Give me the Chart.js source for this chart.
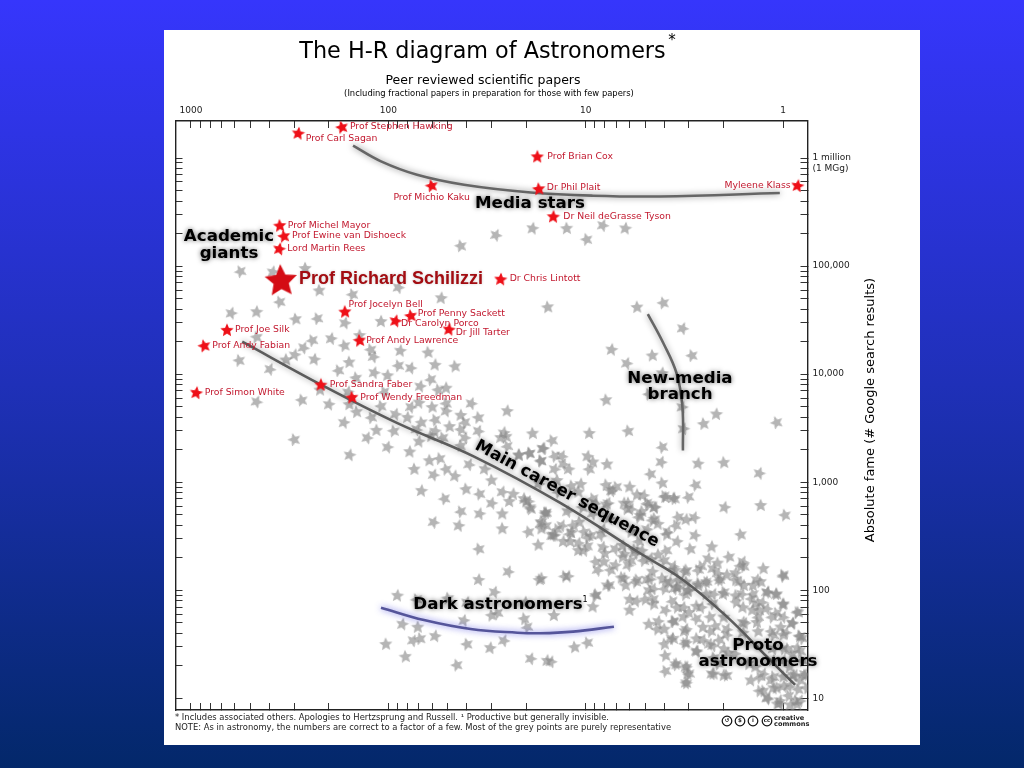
<!DOCTYPE html>
<html>
<head>
<meta charset="utf-8">
<title>The H-R diagram of Astronomers</title>
<script src="https://cdn.jsdelivr.net/npm/chart.js@4"></script>
<style>
  html, body { margin: 0; height: 100%; overflow: hidden; }
  body { width: 1024px; height: 768px; background: linear-gradient(#3636fc 0%, #1f30b8 50%, #03286a 100%); }
  #panel { position: absolute; left: 164px; top: 30px; width: 756px; height: 715px; background: #fff; }
  canvas { display: block; }
</style>
</head>
<body>
<div id="panel"><canvas id="chart" width="756" height="715"></canvas></div>
<script>
const papersTicks = [1000, 900, 800, 700, 600, 500, 400, 300, 200, 100, 90, 80, 70, 60, 50, 40, 30, 20, 10, 9, 8, 7, 6, 5, 4, 3, 2, 1];
const fameTicks = [1000000, 900000, 800000, 700000, 600000, 500000, 400000, 300000, 200000,
  100000, 90000, 80000, 70000, 60000, 50000, 40000, 30000, 20000,
  10000, 9000, 8000, 7000, 6000, 5000, 4000, 3000, 2000,
  1000, 900, 800, 700, 600, 500, 400, 300, 200,
  100, 90, 80, 70, 60, 50, 40, 30, 20, 10];
const papersLabels = { 1000: '1000', 100: '100', 10: '10', 1: '1' };
const fameLabels = { 1000000: ['', '1 million', '(1 MGg)'], 100000: '100,000', 10000: '10,000', 1000: '1,000', 100: '100', 10: '10' };

const redNames = ['Prof Stephen Hawking', 'Prof Carl Sagan', 'Prof Brian Cox', 'Dr Phil Plait', 'Prof Michio Kaku', 'Myleene Klass',
  'Dr Neil deGrasse Tyson', 'Prof Michel Mayor', 'Prof Ewine van Dishoeck', 'Lord Martin Rees', 'Dr Chris Lintott', 'Prof Jocelyn Bell',
  'Prof Penny Sackett', 'Dr Carolyn Porco', 'Dr Jill Tarter', 'Prof Joe Silk', 'Prof Andy Lawrence', 'Prof Andy Fabian',
  'Prof Simon White', 'Prof Sandra Faber', 'Prof Wendy Freedman'];
const redPapers = [172, 286, 17.6, 17.3, 60.4, 0.845, 14.6, 355, 338, 357, 27, 166, 77, 92, 49.3, 657, 140, 857, 940, 220, 153];
const redFame = [1940000, 1700000, 1035000, 520000, 557000, 557000, 288000, 238000, 190000, 145000, 75900, 38000, 34900, 31300, 26100, 25700, 20600, 18400, 6760, 8010, 6120];

const heroName = 'Prof Richard Schilizzi';
const heroPapers = [350];
const heroFame = [74600];

const mediaPapers = [151, 109, 71.6, 41.4, 19, 9.2, 4.2, 1.04];
const mediaFame = [1300000, 931000, 700000, 566000, 480000, 448000, 441000, 474000];
const mainPapers = [550, 220, 90, 36.8, 13.4, 5.31, 3.2, 1.93, 1.21, 0.87];
const mainFame = [20000, 8010, 3520, 1726, 640, 220, 124, 57, 24.3, 13.3];
const newMediaPapers = [4.85, 4.05, 3.47, 3.24, 3.22];
const newMediaFame = [36000, 19400, 10200, 5010, 1963];
const darkPapers = [109, 66, 38.3, 22.2, 17, 11.6, 7.2];
const darkFame = [69, 53, 43.8, 40.5, 40, 41.4, 46];

// [papers, fame]
const greyStars = [
  [562, 90000], [385, 89000], [264, 96000], [43, 155000], [28.5, 195000], [18.6, 225000], [12.5, 225000], [9.9, 178000], [8.2, 240000], [6.3, 225000],
  [224, 60000], [152, 55000], [89, 64000], [54, 51000], [15.6, 42000], [355, 47000], [625, 37000], [465, 38000], [295, 32500], [229, 33000],
  [166, 30000], [109, 31000], [465, 22200], [243, 20700], [195, 21500], [140, 23000], [167, 18500], [269, 17700], [298, 15200], [330, 13700],
  [570, 13500], [398, 11200], [237, 13800], [158, 13000], [123, 17000], [119, 14600], [87, 16600], [63, 16000], [89, 12100], [77, 11500],
  [58, 12300], [46, 11900], [179, 10900], [118, 10400], [101, 9800], [146, 9300], [61, 9000], [69, 7800], [51, 7500], [56, 7200],
  [105, 6900], [160, 6900], [222, 7200], [275, 5800], [465, 5600], [200, 5300], [158, 5300], [109, 5100], [77, 5000], [70, 5500],
  [60, 5000], [51, 5400], [38, 5400], [25, 4600], [145, 4500], [122, 4000], [92, 4300], [80, 4000], [68, 3600], [58, 3800],
  [51, 4600], [43, 4200], [35, 4000], [41, 3600], [168, 3600], [115, 3050], [94, 3000], [72, 3100], [58, 3000], [49, 3300],
  [43, 3100], [35, 3000], [26, 2900], [18.6, 2850], [300, 2500], [128, 2600], [70, 2400], [61, 2700], [53, 2600], [41, 2600],
  [27, 2600], [25.3, 2650], [14.8, 2450], [101, 2130], [78, 1930], [43, 2200], [25, 2170], [16.6, 2070], [21.8, 1800], [19.3, 1870],
  [14.4, 1760], [157, 1800], [62, 1600], [55, 1670], [39, 1470], [32.5, 1330], [74, 1330], [51, 1330], [59, 1180], [46, 1150],
  [30, 1050], [16.9, 1580], [14.4, 1330], [68, 840], [40.5, 870], [34.5, 785], [26.5, 820], [23.3, 785], [20.2, 670], [52, 710],
  [30, 645], [24.4, 670], [19, 570], [43, 540], [34.5, 515], [26.5, 515], [16, 525],
  [59, 430], [44, 400], [26.5, 375], [19.5, 350], [16.9, 415], [14.4, 325], [17.4, 265], [34.8, 243], [24.7, 150], [34.9, 126],
  [17.2, 126], [12.8, 136], [29, 97], [90, 90], [50, 85], [72, 83], [40, 78], [20.2, 78], [30, 59], [28, 62],
  [41.5, 53], [14.5, 59], [20.5, 55], [19.8, 46], [85, 49], [71, 46], [69, 36], [75, 34.5], [58, 38], [103, 32],
  [40, 32], [26, 34.5], [30.5, 29.5], [82, 24.5], [45, 20.5], [19, 23.5], [15.7, 22.5],
  [11.4, 30], [9.8, 33], [15, 22], [9.2, 71], [8.9, 92], [7.6, 112], [12.3, 136], [16.8, 130],
  [1.64, 330], [1, 136],
  [14.9, 325], [12, 285], [9.8, 260], [8.4, 325], [10.2, 235], [8.1, 185], [7.5, 155], [7.1, 243], [6.4, 220], [5.7, 240],
  [5.1, 190], [6.1, 172], [4.6, 150], [4.1, 130], [5.6, 120], [4.9, 126], [6.4, 130], [3.9, 330], [3.5, 400], [2.8, 325],
  [2.3, 255], [2.95, 243], [3.9, 235], [4.7, 198], [3.55, 155], [3.15, 150], [2.7, 155], [2.4, 198], [2.15, 180], [1.88, 205],
  [1.6, 185], [1.75, 145], [1.26, 160], [1.58, 168], [2.15, 145], [2.45, 120], [3.1, 120], [3.9, 120], [3.4, 107], [3.05, 100],
  [2.7, 117], [2.1, 126], [1.66, 120], [1.42, 112], [1.3, 120], [4.55, 83], [5.55, 80], [6.0, 66], [4.55, 75], [3.65, 80],
  [4.3, 52], [4.8, 49], [3.6, 52], [3.95, 66], [3.2, 70], [2.75, 72], [3.15, 92], [2.25, 93], [2.0, 93], [1.74, 90],
  [1.42, 93], [1.21, 97], [1.09, 93], [1, 75], [0.85, 63], [1.37, 75], [1.6, 70], [1.32, 66], [1.14, 57], [0.9, 50],
  [1.03, 46], [0.83, 38], [1.34, 57], [1.56, 50], [2, 57], [2.34, 57], [2.75, 55], [3.2, 57], [4.0, 44], [4.35, 44],
  [3.7, 36], [3.15, 42], [2.75, 36], [2.33, 42], [1.93, 39], [1.6, 41], [1.34, 42], [1.12, 39], [0.97, 41], [0.85, 29.5],
  [4.0, 32], [3.15, 32.5], [2.36, 32], [2.75, 27.5], [3.95, 25], [3.5, 20.7], [3.1, 19.7], [3.05, 17], [3.1, 14], [3.95, 18],
  [2.3, 17], [2, 16.5], [1.26, 11.8], [1.2, 10], [1.04, 9], [0.87, 9.6], [0.84, 12.2], [0.78, 16.8], [1.12, 12.5], [1, 16],
  [1.12, 16], [1.26, 17], [1.46, 14.8], [0.93, 19.7], [0.8, 22.5], [1, 22.5], [1.12, 22.5], [0.9, 26], [1, 29], [1.12, 29],
  [1.38, 19.7], [1.5, 21], [0.8, 36], [1.76, 26], [1.9, 26.5], [2.25, 24], [2.15, 21], [1.04, 9.6], [0.85, 8.9], [0.82, 14.8],
  [0.93, 13], [0.89, 16.5],
  [5.5, 42000], [4.05, 46000], [3.23, 26700], [7.4, 17000], [4.6, 15000], [2.9, 15000], [6.2, 12700], [4.1, 10300], [7.9, 5800], [4.8, 6600],
  [3.25, 5000], [2.18, 4300], [2.53, 3500], [1.08, 3600], [3.2, 3150], [9.6, 2860], [6.1, 3000],
  [4.1, 2130], [16.4, 2070], [21.9, 1800], [19.3, 1870], [13.2, 1760], [9.8, 1750], [9.2, 1550], [16.9, 1600], [13, 1480],
  [12.2, 1330], [7.8, 1480], [9.6, 1330], [4.15, 1550], [2.7, 1500], [2.0, 1530], [4.7, 1200], [1.32, 1220],
  [10.6, 970], [7.9, 950], [7, 910], [7.4, 840], [6, 910], [4.1, 990], [2.78, 950], [5.1, 760], [3.95, 730], [3.55, 710],
  [3.02, 735], [1.98, 590], [1.3, 615], [0.98, 500], [9, 645], [7.9, 625], [6.1, 645], [4.8, 625], [5.9, 570], [4.5, 590],
  [5.2, 540], [3.4, 480], [2.82, 475], [3.1, 455], [4.5, 465], [5.4, 480], [19.5, 670], [20.6, 710], [19.2, 590], [15.9, 525],
  [17.3, 970], [14, 1050], [11.8, 930], [13.8, 820], [12.4, 540], [10.9, 820], [10.4, 590], [9.2, 515], [7.6, 465],
  [16.8, 375], [15.9, 400], [13.2, 400], [11.8, 350], [10.8, 430], [9.4, 325], [8.2, 370], [6.5, 260], [5.9, 350], [5.4, 285],
  [4.9, 370], [4.3, 415],
  [3.1, 155], [2.6, 168], [2.27, 160], [1.93, 140], [1.65, 168], [1, 140], [1.36, 126], [1.58, 112], [1.75, 126], [2.45, 120],
  [2.1, 126], [2.7, 112], [3.4, 126], [3.55, 104], [3, 100], [2.45, 93], [2, 97], [1.62, 93], [1.2, 97], [1.08, 93],
  [1.45, 84], [1.28, 78], [1, 75], [0.84, 63], [1.08, 62], [1.21, 68], [1.43, 66], [1.73, 78], [2.27, 76], [2.6, 70],
  [3, 63], [3.45, 70], [3.6, 52], [3.1, 44], [2.55, 46], [2.2, 47], [1.93, 44], [1.6, 51], [1.36, 51], [1.15, 42],
  [1, 57], [0.9, 50], [1, 39], [0.82, 38], [2.55, 35], [3.1, 33], [3.6, 36], [2.1, 35], [2.27, 31], [2, 29],
  [0.95, 29], [0.82, 27.5], [2.75, 27.5], [3.5, 21], [3.1, 19.7], [3, 17], [3.1, 14], [2.25, 17], [1.93, 16.5], [1.32, 15.8],
  [1.15, 14.8], [1.08, 12.6], [1.32, 11.8], [1.2, 10.2], [1, 13], [1.07, 9], [0.94, 10.7], [0.82, 9.6], [0.92, 8.7], [0.78, 16.5],
  [0.76, 12.6], [0.87, 16.5],
  [16, 525], [16.8, 440], [14, 370], [14.6, 325], [13, 285], [11.6, 400], [12.1, 335], [10.9, 275], [10.9, 235], [10.2, 350],
  [9.8, 312], [8.2, 253], [8, 222], [8.9, 185], [8.7, 155], [7.1, 172], [6.5, 205], [5.9, 190], [5.6, 222], [5.2, 235],
  [6.6, 132], [5.5, 126], [4.7, 128], [7.8, 112], [6.3, 112], [8.9, 90], [4.8, 100], [6, 83], [5, 83],
  [9.2, 710], [7.7, 645], [6.4, 645], [6.2, 570], [4.9, 645], [4.45, 590], [5.5, 770], [7.5, 850], [4, 750], [3.6, 720],
  [5.3, 500], [4.6, 445], [3.85, 350], [3.45, 285], [4.3, 215], [4, 190], [3.6, 168], [3.75, 120], [3.45, 107], [4, 104], [4.55, 104]
];

const star = (size, fill) => {
  const c = document.createElement('canvas');
  c.width = c.height = size;
  const g = c.getContext('2d');
  g.fillStyle = fill;
  g.beginPath();
  for (let i = 0; i < 10; i++) {
    const r = (i % 2 ? 0.47 : 1) * size / 2;
    const a = -Math.PI / 2 + i * Math.PI / 5;
    g.lineTo(size / 2 + r * Math.cos(a), size / 2 + r * Math.sin(a) + size * 0.04);
  }
  g.closePath();
  g.fill();
  return c;
};

const toPoints = (xs, ys) => xs.map((x, i) => ({ x, y: ys[i] }));
const curve = (xs, ys, color, glow) => ({
  type: 'scatter', showLine: true, data: toPoints(xs, ys), borderColor: color, borderWidth: 2.6, tension: 0.4,
  pointRadius: 0, order: 1, glow, xAxisID: 'x', yAxisID: 'y'
});

const X_MIN = 0.753, X_MAX = 1198, Y_MIN = 7.8, Y_MAX = 2200000;

const logAxis = (axis, position, min, max, values, labels, reverse) => ({
  type: 'logarithmic', axis, position, min, max, reverse,
  afterBuildTicks: s => { s.ticks = values.map(value => ({ value })); },
  afterFit: s => {
    if (axis === 'x') s.height = position === 'top' ? 91 : 0;
    else s.width = position === 'right' ? 112.5 : 0;
  },
  border: { color: '#222', width: 1.4 },
  grid: { drawOnChartArea: false, tickLength: -7, tickColor: '#333', tickWidth: 1 },
  ticks: {
    display: !!labels, autoSkip: false, maxRotation: 0, minRotation: 0, padding: 12,
    color: '#222', font: { family: 'DejaVu Sans', size: 9 },
    callback: v => (labels && labels[v]) || ''
  }
});

// dx, dy from the star, and text alignment
const redNudge = [[8, 0], [7.5, 5], [10, 0], [8, -1], [0, 12, 'center'], [-7, 0, 'right'], [10, 0], [8, 0], [8, 0], [8, 0], [9, 0],
  [3.5, -7], [7, -1.5], [5.5, 2.5], [6.7, 3.4], [8, 0], [6.6, 0.7], [8, 0], [8.4, 0], [9, 0], [8.3, 0.7]];

const headingLines = [
  ['Media stars', 530, 204], ['Academic', 229, 237], ['giants', 229, 254], ['New-media', 680, 379], ['branch', 680, 395],
  ['Dark astronomers', 498, 605], ['Proto', 758, 646], ['astronomers', 758, 662]
];

const textPlugin = {
  id: 'chartText',
  afterDatasetsDraw(chart) {
    const { ctx } = chart;
    const sx = chart.scales.x, sy = chart.scales.y;
    ctx.save();
    ctx.textBaseline = 'middle';

    // names next to the red stars
    ctx.font = '9.3px "DejaVu Sans"';
    ctx.fillStyle = '#c2182e';
    redNames.forEach((name, i) => {
      const [dx, dy, align] = redNudge[i];
      ctx.textAlign = align || 'left';
      ctx.fillText(name, sx.getPixelForValue(redPapers[i]) + dx, sy.getPixelForValue(redFame[i]) + dy);
    });

    ctx.save();
    ctx.translate(-164, -30);

    const soft = (color, blur) => { ctx.shadowColor = color; ctx.shadowBlur = blur; };
    soft('rgba(0,0,0,0.2)', 3);
    ctx.font = 'bold 18px "Liberation Sans"';
    ctx.fillStyle = '#a30d12';
    ctx.textAlign = 'left';
    ctx.fillText(heroName, 299, 279);

    soft('rgba(0,0,0,0.6)', 5);
    ctx.fillStyle = '#000';
    ctx.textAlign = 'center';
    ctx.font = 'bold 16.7px "DejaVu Sans"';
    headingLines.forEach(([t, x, y]) => ctx.fillText(t, x, y));
    ctx.save();
    ctx.translate(567, 494);
    ctx.rotate(28.5 * Math.PI / 180);
    ctx.fillText('Main career sequence', 0, 0);
    ctx.restore();
    soft('transparent', 0);

    ctx.font = '8px "DejaVu Sans"';
    ctx.fillText('1', 585, 600);

    ctx.font = '22.3px "DejaVu Sans"';
    ctx.fillText('The H-R diagram of Astronomers', 482.5, 52);
    ctx.font = '15px "DejaVu Sans"';
    ctx.fillText('*', 672, 41);
    ctx.font = '12.5px "DejaVu Sans"';
    ctx.fillText('Peer reviewed scientific papers', 483, 81);
    ctx.font = '8.4px "DejaVu Sans"';
    ctx.fillText('(Including fractional papers in preparation for those with few papers)', 489, 94);

    ctx.save();
    ctx.translate(871, 410);
    ctx.rotate(-Math.PI / 2);
    ctx.font = '13px "DejaVu Sans"';
    ctx.fillText('Absolute fame (# Google search results)', 0, 0);
    ctx.restore();

    ctx.textAlign = 'left';
    ctx.font = '8.4px "DejaVu Sans"';
    ctx.fillStyle = '#222';
    ctx.fillText('* Includes associated others. Apologies to Hertzsprung and Russell. \u00b9 Productive but generally invisible.', 175, 718);
    ctx.fillText('NOTE: As in astronomy, the numbers are correct to a factor of a few. Most of the grey points are purely representative', 175, 728);

    // creative commons badge
    ctx.strokeStyle = '#111';
    ctx.lineWidth = 1.2;
    ctx.textAlign = 'center';
    ctx.font = 'bold 5.5px "DejaVu Sans"';
    [[727, '\u21ba'], [740, '$'], [753, 'i'], [767, 'cc']].forEach(([x, t]) => {
      ctx.beginPath();
      ctx.arc(x, 721, 4.8, 0, Math.PI * 2);
      ctx.stroke();
      ctx.fillText(t, x, 721);
    });
    ctx.textAlign = 'left';
    ctx.font = 'bold 6.6px "DejaVu Sans"';
    ctx.fillText('creative', 774, 718);
    ctx.fillText('commons', 774, 724);

    ctx.restore();
    ctx.restore();
  }
};

const glowPlugin = {
  id: 'lineGlow',
  beforeDatasetDraw(chart, args) {
    const glow = chart.data.datasets[args.index].glow;
    if (!glow) return;
    chart.ctx.save();
    chart.ctx.shadowColor = glow;
    chart.ctx.shadowBlur = 6;
  },
  afterDatasetDraw(chart, args) {
    if (chart.data.datasets[args.index].glow) chart.ctx.restore();
  }
};

new Chart(document.getElementById('chart'), {
  type: 'scatter',
  data: {
    datasets: [
      { data: toPoints(heroPapers, heroFame), pointStyle: star(34, '#d40c14'), pointRadius: 17, pointRotation: -3, order: 0 },
      { data: toPoints(redPapers, redFame), pointStyle: star(14, '#ee1018'), pointRadius: 7, pointRotation: c => (c.dataIndex * 23) % 30 - 15, order: 0.5 },
      curve(mediaPapers, mediaFame, '#666', 'rgba(0,0,0,0.5)'),
      curve(mainPapers, mainFame, '#5c5c5c', 'rgba(0,0,0,0.4)'),
      curve(newMediaPapers, newMediaFame, '#666', 'rgba(0,0,0,0.4)'),
      curve(darkPapers, darkFame, '#55559a', 'rgba(60,60,220,0.7)'),
      { data: greyStars.map(([x, y]) => ({ x, y })), pointStyle: star(14, 'rgba(135,135,135,0.62)'), pointRadius: 7, pointRotation: c => (c.dataIndex * 37) % 50 - 25, order: 2 }
    ]
  },
  options: {
    responsive: false,
    animation: false,
    layout: { autoPadding: false, padding: { left: 11.5, right: 0, top: 0, bottom: 35 } },
    plugins: { legend: { display: false }, tooltip: { enabled: false } },
    scales: {
      x: logAxis('x', 'top', X_MIN, X_MAX, papersTicks, papersLabels, true),
      xBottom: logAxis('x', 'bottom', X_MIN, X_MAX, papersTicks, null, true),
      y: logAxis('y', 'right', Y_MIN, Y_MAX, fameTicks, fameLabels, false),
      yLeft: logAxis('y', 'left', Y_MIN, Y_MAX, fameTicks, null, false)
    }
  },
  plugins: [glowPlugin, textPlugin]
});
</script>
</body>
</html>
